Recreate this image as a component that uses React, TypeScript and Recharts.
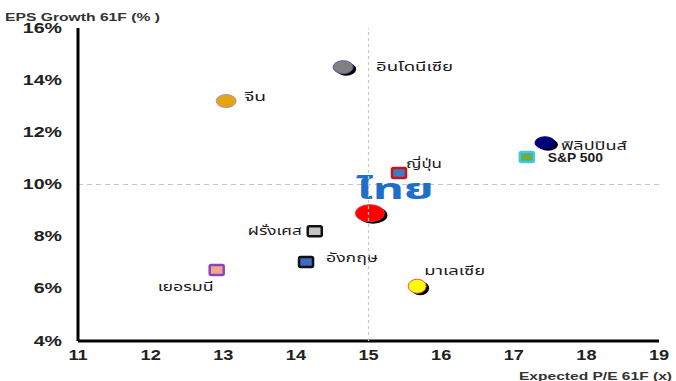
import React from "react";
import {
  ScatterChart,
  Scatter,
  XAxis,
  YAxis,
  ReferenceLine,
} from "recharts";

// Markets compared by expected P/E (x) and EPS growth (%) for 2561F
const markets = [
  "อินโดนีเซีย",
  "จีน",
  "ฟิลิปปินส์",
  "S&P 500",
  "ญี่ปุ่น",
  "ไทย",
  "ฝรั่งเศส",
  "อังกฤษ",
  "เยอรมนี",
  "มาเลเซีย",
];
const expectedPE = [14.65, 13.04, 17.43, 17.18, 15.42, 15.02, 14.26, 14.14, 12.91, 15.67];
const epsGrowth = [14.5, 13.2, 11.6, 11.05, 10.44, 8.9, 8.21, 7.03, 6.72, 6.1];

const xTicks = [11, 12, 13, 14, 15, 16, 17, 18, 19];
const yTicks = [4, 6, 8, 10, 12, 14, 16];

const data = markets.map((name, i) => ({ name, pe: expectedPE[i], eps: epsGrowth[i] }));

type MarkerStyle = {
  kind: "ellipse" | "rect";
  fill: string;
  stroke: string;
  rx: number;
  ry: number;
  shadow?: boolean;
  strokeWidth?: number;
};

const markerStyles: Record<string, MarkerStyle> = {
  "อินโดนีเซีย": { kind: "ellipse", fill: "#808080", stroke: "#5a5aa8", rx: 10, ry: 6.5, shadow: true },
  "จีน": { kind: "ellipse", fill: "#e4a312", stroke: "#b890b0", rx: 10, ry: 6.5 },
  "ฟิลิปปินส์": { kind: "ellipse", fill: "#00007a", stroke: "#00007a", rx: 10, ry: 6, shadow: true },
  "S&P 500": { kind: "rect", fill: "#6aab4a", stroke: "#3cc8f0", rx: 7, ry: 5, strokeWidth: 2.5 },
  "ญี่ปุ่น": { kind: "rect", fill: "#3a7cc6", stroke: "#d01010", rx: 7, ry: 5, strokeWidth: 2.5 },
  "ไทย": { kind: "ellipse", fill: "#ff0000", stroke: "#ff2020", rx: 14.5, ry: 8.5, shadow: true },
  "ฝรั่งเศส": { kind: "rect", fill: "#c4c4c4", stroke: "#111111", rx: 7, ry: 5, strokeWidth: 2.5 },
  "อังกฤษ": { kind: "rect", fill: "#3a6cc4", stroke: "#111111", rx: 7, ry: 5, strokeWidth: 2.5 },
  "เยอรมนี": { kind: "rect", fill: "#f2a888", stroke: "#8a44c0", rx: 7, ry: 5, strokeWidth: 2.5 },
  "มาเลเซีย": { kind: "ellipse", fill: "#ffff00", stroke: "#ff5050", rx: 9, ry: 7, shadow: true },
};

// Where each market's name sits relative to its marker, and how wide it runs
const labelPlacement: Record<string, { dx: number; dy: number; anchor: "start" | "end"; len: number }> = {
  "อินโดนีเซีย": { dx: 33, dy: 0, anchor: "start", len: 77 },
  "จีน": { dx: 18, dy: -4, anchor: "start", len: 22 },
  "ฟิลิปปินส์": { dx: 16, dy: 3, anchor: "start", len: 66 },
  "S&P 500": { dx: 21, dy: 1, anchor: "start", len: 55 },
  "ญี่ปุ่น": { dx: 7, dy: -9, anchor: "start", len: 36 },
  "ไทย": { dx: -14, dy: -23, anchor: "start", len: 78 },
  "ฝรั่งเศส": { dx: -13, dy: 0, anchor: "end", len: 54 },
  "อังกฤษ": { dx: 20, dy: -4, anchor: "start", len: 52 },
  "เยอรมนี": { dx: -3, dy: 17, anchor: "end", len: 56 },
  "มาเลเซีย": { dx: 7, dy: -15, anchor: "start", len: 61 },
};

const thaiFont = "Tahoma, 'Noto Sans Thai', 'Leelawadee UI', 'DejaVu Sans', sans-serif";
const axisFont = "'Liberation Sans', Arial, sans-serif";

const MarketMarker = (props: any) => {
  const { cx, cy, payload } = props;
  const s = markerStyles[payload.name];
  const lp = labelPlacement[payload.name];
  const isHome = payload.name === "ไทย";
  const isIndex = payload.name === "S&P 500";
  return (
    <g>
      {s.kind === "ellipse" ? (
        <>
          {s.shadow && <ellipse cx={cx + 3} cy={cy + 2} rx={s.rx} ry={s.ry} fill="#000" />}
          <ellipse cx={cx} cy={cy} rx={s.rx} ry={s.ry} fill={s.fill} stroke={s.stroke} strokeWidth={1} />
        </>
      ) : (
        <rect
          x={cx - s.rx}
          y={cy - s.ry}
          width={s.rx * 2}
          height={s.ry * 2}
          rx={1.5}
          fill={s.fill}
          stroke={s.stroke}
          strokeWidth={s.strokeWidth ?? 2}
        />
      )}
      <text
        x={cx + lp.dx}
        y={cy + lp.dy}
        textAnchor={lp.anchor}
        dominantBaseline="central"
        fontFamily={isIndex ? axisFont : thaiFont}
        fontSize={isHome ? 28 : 12}
        fontWeight={isHome || isIndex ? 700 : 400}
        fill={isHome ? "#1f6fc8" : "#1a1a1a"}
        textLength={lp.len}
        lengthAdjust="spacingAndGlyphs"
      >
        {payload.name}
      </text>
    </g>
  );
};

// Wide bold tick labels
const XTick = (props: any) => {
  const { x, y, payload } = props;
  return (
    <text
      transform={`translate(${x},${y}) scale(1.3,1)`}
      textAnchor="middle"
      dominantBaseline="central"
      fontFamily={axisFont}
      fontSize={14}
      fontWeight={700}
      fill="#222"
    >
      {payload.value}
    </text>
  );
};

const YTick = (props: any) => {
  const { x, y, payload } = props;
  return (
    <text
      transform={`translate(${x},${y}) scale(1.4,1)`}
      textAnchor="end"
      dominantBaseline="central"
      fontFamily={axisFont}
      fontSize={14}
      fontWeight={700}
      fill="#222"
    >
      {`${payload.value}%`}
    </text>
  );
};

export default function App() {
  return (
    <div style={{ position: "absolute", left: 0, top: 0, width: 676, height: 381, background: "#fff" }}>
      <ScatterChart width={676} height={381} margin={{ top: 28, right: 17, bottom: 10, left: 8 }}>
        <XAxis
          type="number"
          dataKey="pe"
          domain={[11, 19]}
          ticks={xTicks}
          interval={0}
          height={30}
          axisLine={{ stroke: "#000", strokeWidth: 3 }}
          tickLine={false}
          tick={<XTick />}
          tickMargin={8}
        />
        <YAxis
          type="number"
          dataKey="eps"
          domain={[4, 16]}
          ticks={yTicks}
          interval={0}
          width={70}
          axisLine={{ stroke: "#000", strokeWidth: 3 }}
          tickLine={false}
          tick={<YTick />}
          tickMargin={10}
        />
        <ReferenceLine y={10} stroke="#c4c4c4" strokeDasharray="5 4" strokeWidth={1.2} />
        <Scatter data={data} isAnimationActive={false} shape={MarketMarker} />
        <ReferenceLine x={15} stroke="#c8c8c8" strokeDasharray="3 3" strokeWidth={1.2} zIndex={700} />
        <text
          x={5}
          y={21}
          fontFamily={axisFont}
          fontSize={11}
          fontWeight={700}
          fill="#333"
          textLength={155}
          lengthAdjust="spacingAndGlyphs"
        >
          EPS Growth 61F (% )
        </text>
        <text
          x={519}
          y={380}
          fontFamily={axisFont}
          fontSize={11}
          fontWeight={700}
          fill="#333"
          textLength={153}
          lengthAdjust="spacingAndGlyphs"
        >
          Expected P/E 61F (x)
        </text>
      </ScatterChart>
    </div>
  );
}
